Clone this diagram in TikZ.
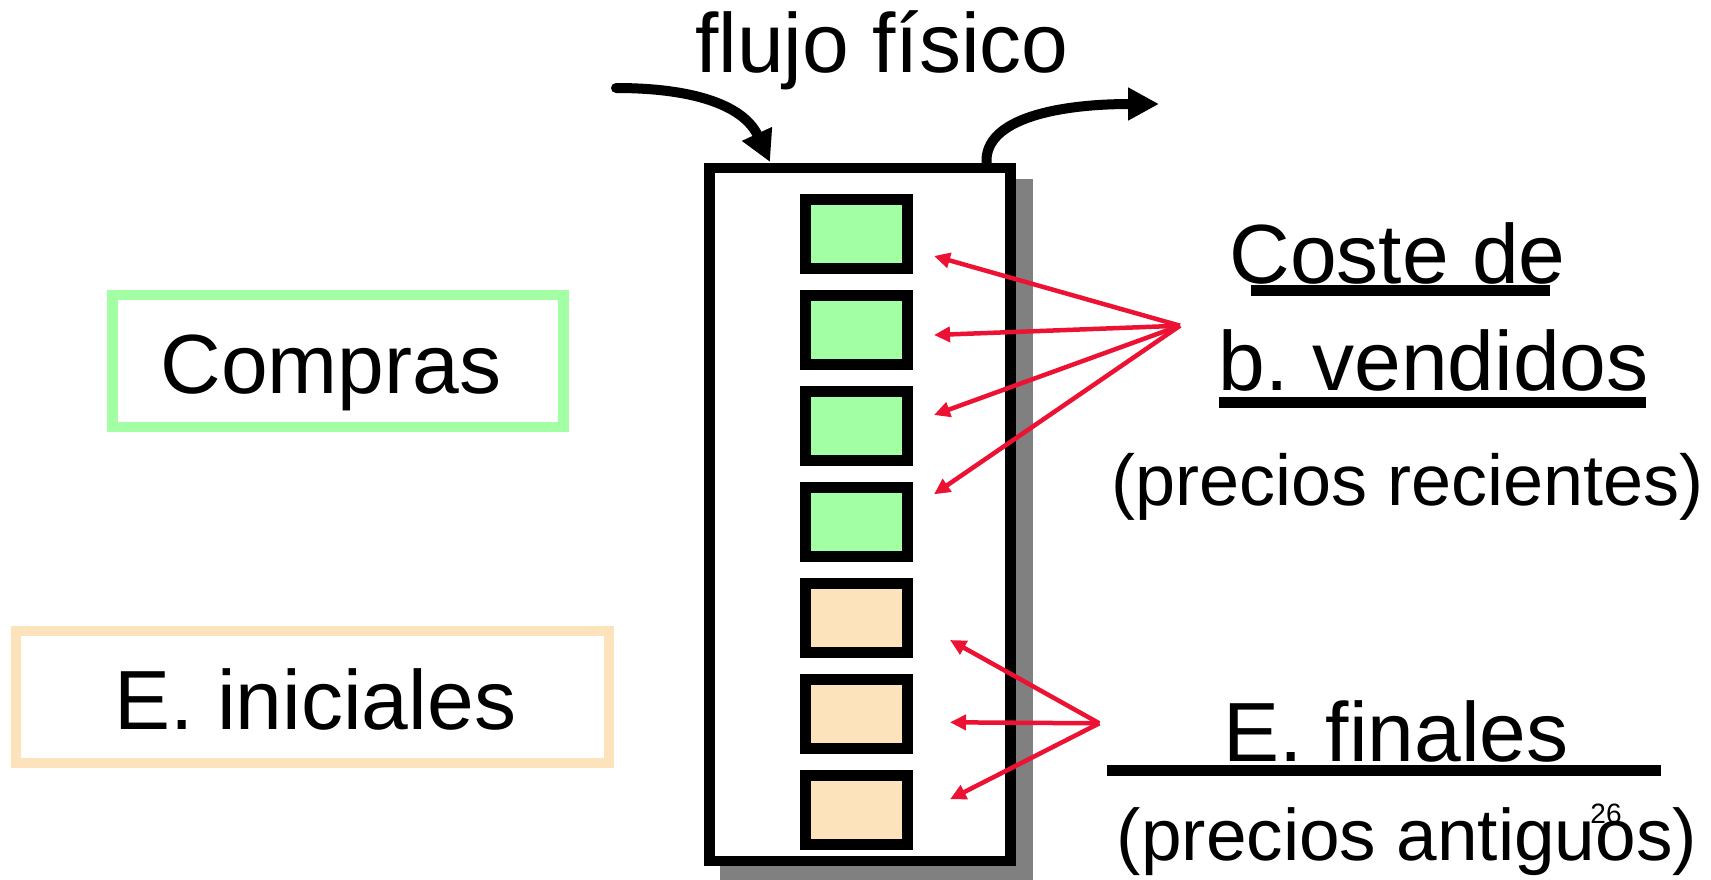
\documentclass[tikz,border=0pt]{standalone}
\usepackage{fontspec}
\setmainfont{Liberation Sans}
\usetikzlibrary{arrows.meta}
\definecolor{boxgreen}{HTML}{A3FFA3}
\definecolor{boxpeach}{HTML}{FCE3BC}
\definecolor{arrred}{RGB}{236,18,52}
\definecolor{shadowgray}{HTML}{808080}
\frenchspacing
\begin{document}
\begin{tikzpicture}[x=1pt,y=-1pt,
  bigtext/.style={inner sep=0pt, font=\fontsize{84}{100}\selectfont},
  midtext/.style={inner sep=0pt, font=\fontsize{72}{86}\selectfont},
  smalltext/.style={inner sep=0pt, font=\fontsize{28}{34}\selectfont},
  item/.style={draw=black, line width=11pt, inner sep=0pt, minimum width=102pt, minimum height=69.5pt},
  greenitem/.style={item, fill=boxgreen},
  peachitem/.style={item, fill=boxpeach},
  flowarrow/.style={line width=10pt, line cap=round, -{Triangle[length=31pt,width=31pt]}},
  redarrow/.style={draw=arrred, line width=4.5pt, -{Triangle[length=16pt,width=15pt]}},
  labelbox/.style={line width=10.5pt, inner sep=0pt, minimum height=131.7pt},
  uline/.style={line width=10.5pt}
]
\useasboundingbox (0,0) rectangle (1711,879);
\fill[white] (0,0) rectangle (1711,879);

% store with shadow
\fill[shadowgray] (720,179) rectangle (1032.5,882);
\node[draw=black, line width=10.5pt, fill=white, inner sep=0pt,
      minimum width=301pt, minimum height=693pt] (store) at (860,514.5) {};

% items
\node[greenitem] (g1) at (856.5,234) {};
\node[greenitem] (g2) at (856.5,330) {};
\node[greenitem] (g3) at (856.5,426) {};
\node[greenitem] (g4) at (856.5,522) {};
\node[peachitem] (o1) at (856.5,618) {};
\node[peachitem] (o2) at (856.5,714) {};
\node[peachitem] (o3) at (856.5,810) {};

% physical flow
\node[bigtext, anchor=base] (flujo) at (882,72.7) {flujo físico};
\coordinate (inStart) at (616,88);
\coordinate (inTip) at (770,162);
\draw[flowarrow] (inStart) .. controls (700,88) and (745,108) .. (inTip);
\coordinate (outStart) at (986.5,163);
\coordinate (outTip) at (1159,104);
\draw[flowarrow] (outStart) .. controls (984,118) and (1060,104) .. (outTip);

% left labels
\node[labelbox, draw=boxgreen, minimum width=451pt] (compras) at (338,361) {};
\node[bigtext, anchor=base] (comprastext) at (331,393.3) {Compras};
\node[labelbox, draw=boxpeach, minimum width=593pt] (inicial) at (312.5,697) {};
\node[bigtext, anchor=base] (inicialtext) at (315.4,729.3) {E. iniciales};

% right labels
\node[bigtext, anchor=base] (coste) at (1397.5,283.3) {Coste de};
\draw[uline] (1251,290.3) -- (1550,290.3);
\node[bigtext, anchor=base] (vendidos) at (1433.8,390) {b. vendidos};
\draw[uline] (1219,402.3) -- (1645.6,402.3);
\node[midtext, anchor=base] (recientes) at (1408,505) {(precios recientes)};
\node[bigtext, anchor=base] (finales) at (1395.8,761) {E. finales};
\draw[uline] (1107,770.3) -- (1661,770.3);
\node[midtext, font=\fontsize{73}{86}\selectfont, anchor=base] (antiguos) at (1407,860) {(precios antiguos)};
\node[smalltext, anchor=base] (pagenum) at (1606,823) {26};

% red pointers
\coordinate (apexA) at (1180,325.7);
\coordinate (tA1) at (934,256);
\coordinate (tA2) at (934,335);
\coordinate (tA3) at (934,415);
\coordinate (tA4) at (934,494.3);
\draw[redarrow] (apexA) -- (tA1);
\draw[redarrow] (apexA) -- (tA2);
\draw[redarrow] (apexA) -- (tA3);
\draw[redarrow] (apexA) -- (tA4);
\coordinate (apexB) at (1099.3,723.3);
\coordinate (tB1) at (950,640);
\coordinate (tB2) at (950,722.3);
\coordinate (tB3) at (950,799.3);
\draw[redarrow] (apexB) -- (tB1);
\draw[redarrow] (apexB) -- (tB2);
\draw[redarrow] (apexB) -- (tB3);
\end{tikzpicture}
\end{document}
